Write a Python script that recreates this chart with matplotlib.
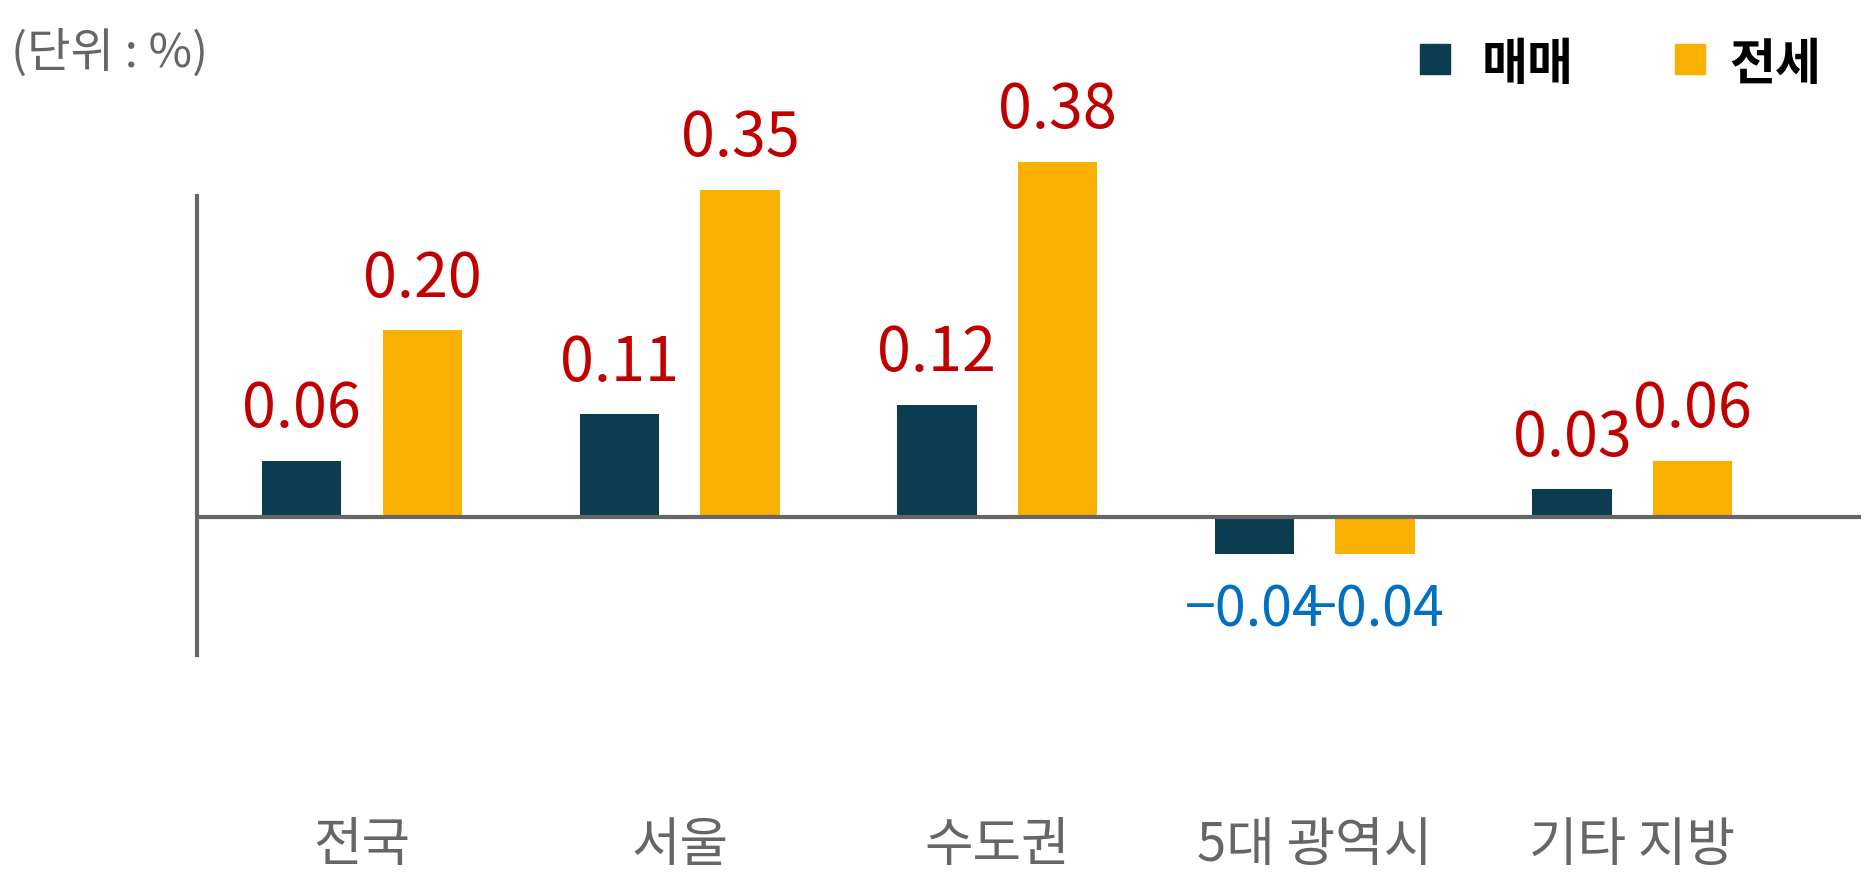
import matplotlib
matplotlib.use("Agg")
import matplotlib.pyplot as plt
import numpy as np

categories = ["전국", "서울", "수도권", "5대 광역시", "기타 지방"]
sale = [0.06, 0.11, 0.12, -0.04, 0.03]
jeonse = [0.20, 0.35, 0.38, -0.04, 0.06]

plt.rcParams['font.family'] = ['Noto Sans CJK KR', 'DejaVu Sans']
DARK, YEL, RED, BLUE, GRAY = "#0B3C50", "#F9B000", "#C00000", "#0070C0", "#666666"

fig = plt.figure(figsize=(18.76, 8.9), dpi=100)
ax = fig.add_axes([0.105, 0.2635, 0.887, 0.516])
x = np.arange(len(categories))
w = 0.25
off = 0.19
ax.bar(x - off, sale, w, color=DARK, clip_on=False, zorder=2)
ax.bar(x + off, jeonse, w, color=YEL, clip_on=False, zorder=2)
ax.set_xlim(-0.52, 4.72)
ax.set_ylim(-0.148, 0.343)
ax.axhline(0, color=GRAY, lw=3, zorder=3)
for s in ["top", "right", "bottom"]:
    ax.spines[s].set_visible(False)
ax.spines["left"].set_color(GRAY)
ax.spines["left"].set_linewidth(3)
ax.set_xticks([]); ax.set_yticks([])

for vals, dx in ((sale, -off), (jeonse, off)):
    for i, v in enumerate(vals):
        if v >= 0:
            ax.annotate(f"{v:.2f}", (i + dx, v), xytext=(0, 14), textcoords="offset points",
                        ha="center", va="bottom", color=RED, fontsize=44, annotation_clip=False)
        else:
            ax.annotate(f"\u2212{abs(v):.2f}", (i + dx, v), xytext=(0, -20), textcoords="offset points",
                        ha="center", va="top", color=BLUE, fontsize=40, annotation_clip=False)

for i, c in enumerate(categories):
    xf = fig.transFigure.inverted().transform(ax.transData.transform((i, 0)))[0]
    fig.text(xf, 0.05, c, ha="center", va="center", fontsize=38, color=GRAY)

fig.text(0.006, 0.94, "(단위 : %)", ha="left", va="center", fontsize=34, color=GRAY)
fig.patches.append(plt.Rectangle((0.757, 0.917), 0.016, 0.034, color=DARK, transform=fig.transFigure))
fig.text(0.79, 0.926, "매매", ha="left", va="center", fontsize=36, fontweight="bold", color="black")
fig.patches.append(plt.Rectangle((0.893, 0.917), 0.016, 0.034, color=YEL, transform=fig.transFigure))
fig.text(0.922, 0.926, "전세", ha="left", va="center", fontsize=36, fontweight="bold", color="black")

fig.savefig("out.png", dpi=100)
